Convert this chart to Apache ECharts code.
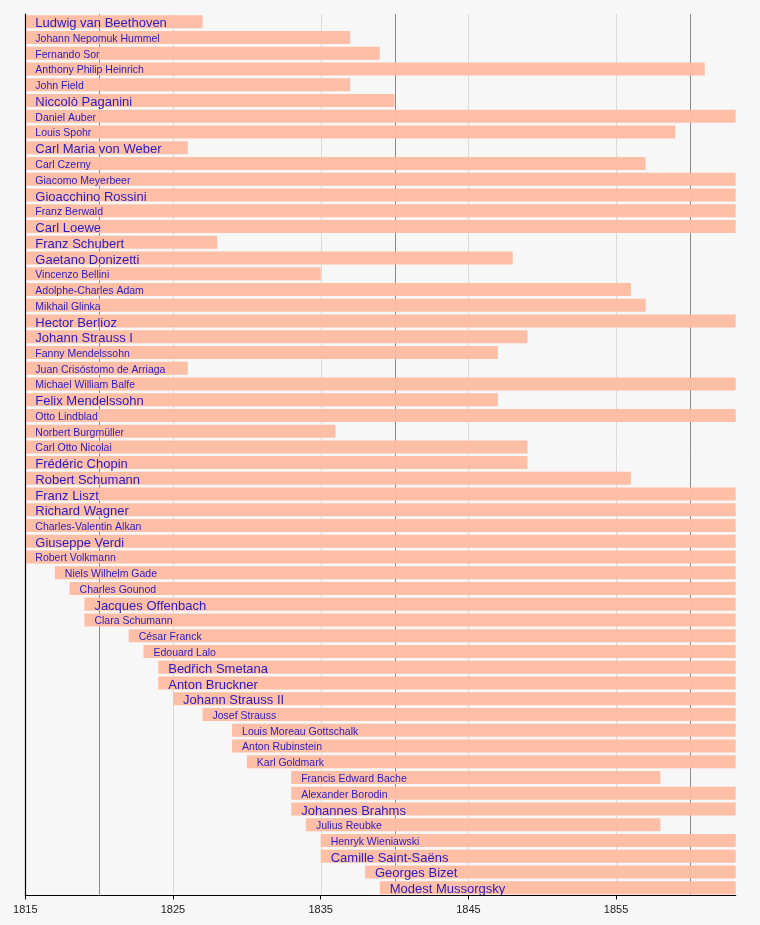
<!DOCTYPE html>
<html>
<head>
<meta charset="utf-8">
<script src="https://cdn.jsdelivr.net/npm/echarts@6/dist/echarts.min.js"></script>
<style>
html,body{margin:0;padding:0;background:#f7f7f7;}
#c{width:760px;height:925px;}
</style>
</head>
<body>
<div id="c"></div>
<script>
const names = ["Ludwig van Beethoven","Johann Nepomuk Hummel","Fernando Sor","Anthony Philip Heinrich","John Field","Niccolò Paganini","Daniel Auber","Louis Spohr","Carl Maria von Weber","Carl Czerny","Giacomo Meyerbeer","Gioacchino Rossini","Franz Berwald","Carl Loewe","Franz Schubert","Gaetano Donizetti","Vincenzo Bellini","Adolphe-Charles Adam","Mikhail Glinka","Hector Berlioz","Johann Strauss I","Fanny Mendelssohn","Juan Crisóstomo de Arriaga","Michael William Balfe","Felix Mendelssohn","Otto Lindblad","Norbert Burgmüller","Carl Otto Nicolai","Frédéric Chopin","Robert Schumann","Franz Liszt","Richard Wagner","Charles-Valentin Alkan","Giuseppe Verdi","Robert Volkmann","Niels Wilhelm Gade","Charles Gounod","Jacques Offenbach","Clara Schumann","César Franck","Edouard Lalo","Bedřich Smetana","Anton Bruckner","Johann Strauss II","Josef Strauss","Louis Moreau Gottschalk","Anton Rubinstein","Karl Goldmark","Francis Edward Bache","Alexander Borodin","Johannes Brahms","Julius Reubke","Henryk Wieniawski","Camille Saint-Saëns","Georges Bizet","Modest Mussorgsky"];
const startYears = [1815,1815,1815,1815,1815,1815,1815,1815,1815,1815,1815,1815,1815,1815,1815,1815,1815,1815,1815,1815,1815,1815,1815,1815,1815,1815,1815,1815,1815,1815,1815,1815,1815,1815,1815,1817,1818,1819,1819,1822,1823,1824,1824,1825,1827,1829,1829,1830,1833,1833,1833,1834,1835,1835,1838,1839];
const endYears = [1827,1837,1839,1861,1837,1840,1871,1859,1826,1857,1864,1868,1868,1869,1828,1848,1835,1856,1857,1869,1849,1847,1826,1870,1847,1878,1836,1849,1849,1856,1886,1883,1888,1901,1883,1890,1893,1880,1896,1890,1892,1884,1896,1899,1870,1869,1894,1915,1858,1887,1897,1858,1880,1921,1875,1881];
const major = [1,0,0,0,0,1,0,0,1,0,0,1,0,1,1,1,0,0,0,1,1,0,0,0,1,0,0,0,1,1,1,1,0,1,0,0,0,1,0,0,0,1,1,1,0,0,0,0,0,0,1,0,0,1,1,1];
const tickYears = [1815,1825,1835,1845,1855];
const minorLines = [1825,1835,1845,1855];
const majorLines = [1820,1840,1860];

const AX_MIN = 1815, AX_MAX = 1863.1;
const chart = echarts.init(document.getElementById('c'), null, {renderer:'canvas'});
const visData = names.map((n,i)=>({
  value: endYears[i]-startYears[i],
  label: { fontSize: major[i] ? 13 : 10.5, letterSpacing: major[i] ? 0 : -0.4,
           offset: major[i] ? [0, 2] : [0, 1.5] }
}));
const gridLineData = minorLines.map(v=>[v,0]).concat(majorLines.map(v=>[v,1]));
chart.setOption({
  backgroundColor:'#f7f7f7',
  animation:false,
  grid:{left:25.3, right:24.3, top:14, bottom:29.5},
  xAxis:{
    type:'value', min:AX_MIN, max:AX_MAX, interval:10, zlevel:1,
    axisLine:{show:true, lineStyle:{color:'#000', width:1.2}},
    axisTick:{show:true, length:4, lineStyle:{color:'#000'}, customValues: tickYears},
    axisLabel:{color:'#222', fontSize:11, fontFamily:'Liberation Sans, Arial, sans-serif', margin:9,
      customValues: tickYears, formatter:v=>String(v)},
    splitLine:{show:false}
  },
  yAxis:{
    type:'category', data:names, inverse:true, zlevel:1,
    axisLine:{show:true, onZero:false, lineStyle:{color:'#000', width:1.2}},
    axisTick:{show:false}, axisLabel:{show:false}, splitLine:{show:false}
  },
  series:[
    {
      type:'custom', data:gridLineData, silent:true, z:0, clip:false,
      encode:{x:0},
      renderItem:(params, api)=>{
        const cs = params.coordSys;
        const x = Math.round(api.coord([api.value(0), 0])[0]) + 0.5;
        return {type:'line', shape:{x1:x, y1:cs.y, x2:x, y2:cs.y+cs.height},
          style:{stroke: api.value(1) ? '#8a8a8a' : '#dadada', lineWidth:1}};
      }
    },
    {
      type:'bar', stack:'t', data:startYears, barWidth:13, silent:true, z:1,
      itemStyle:{color:'rgba(0,0,0,0)'}
    },
    {
      type:'bar', stack:'t', data:visData, barWidth:13, clip:true, z:2,
      itemStyle:{color:'rgba(255,188,162,0.96)'},
      label:{show:true, position:'insideLeft', distance:10, color:'#2a1ac4',
        fontFamily:'Liberation Sans, Arial, sans-serif',
        formatter:p=>names[p.dataIndex]}
    }
  ]
});
</script>
</body>
</html>
